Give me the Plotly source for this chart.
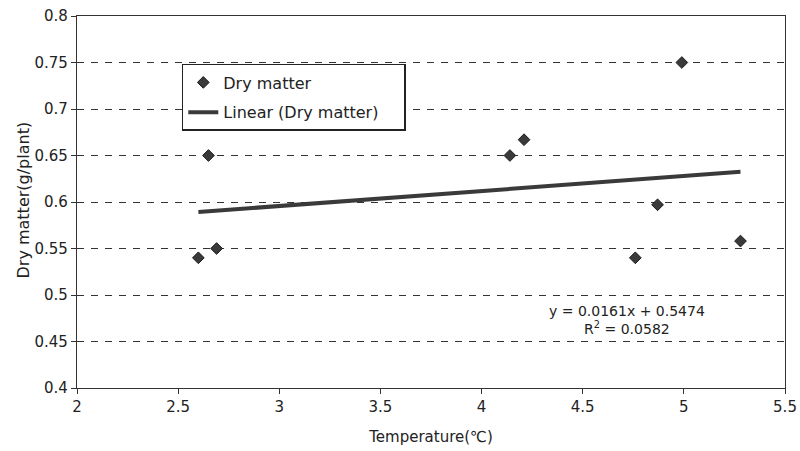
import plotly.graph_objects as go

# ---- data ----
temperature = [2.60, 2.65, 2.69, 4.14, 4.21, 4.76, 4.87, 4.99, 5.28]
dry_matter = [0.540, 0.650, 0.550, 0.650, 0.667, 0.540, 0.597, 0.750, 0.558]
trend_slope = 0.0161
trend_intercept = 0.5474
r_squared = 0.0582

x_ticks = [2, 2.5, 3, 3.5, 4, 4.5, 5, 5.5]
x_tick_labels = ["2", "2.5", "3", "3.5", "4", "4.5", "5", "5.5"]
y_ticks = [0.4, 0.45, 0.5, 0.55, 0.6, 0.65, 0.7, 0.75, 0.8]
y_tick_labels = ["0.4", "0.45", "0.5", "0.55", "0.6", "0.65", "0.7", "0.75", "0.8"]

# trend line spans the data range
trend_x = [min(temperature), max(temperature)]
trend_y = [trend_slope * v + trend_intercept for v in trend_x]

FONT = "DejaVu Sans"
INK = "#222222"
PAD = "\u00a0" * 4  # invisible padding so the legend box matches the reference width

fig = go.Figure()
fig.add_trace(go.Scatter(
    x=temperature, y=dry_matter, mode="markers", name="Dry matter",
    legendgroup="pts",
    marker=dict(symbol="diamond", size=9, color="#3a3a3a",
                line=dict(color="#1a1a1a", width=1)),
))
fig.add_trace(go.Scatter(
    x=trend_x, y=trend_y, mode="lines", name="Linear (Dry matter)" + PAD,
    legendgroup="fit",
    line=dict(color="#3a3a3a", width=4),
))

fig.add_annotation(
    x=4.72, y=0.473, xref="x", yref="y", showarrow=False,
    text=f"y = {trend_slope}x + {trend_intercept}<br>R<sup>2</sup> = {r_squared}",
    font=dict(family=FONT, size=14, color=INK), align="center",
)
# y-axis title placed as rotated text
fig.add_annotation(
    x=-0.092, y=0.505, xref="paper", yref="paper", showarrow=False,
    text="Dry matter(g/plant)", textangle=-90,
    font=dict(family=FONT, size=16, color=INK),
)

fig.update_layout(
    template="none",
    width=800, height=451,
    margin=dict(l=77, r=15, t=16, b=63),
    paper_bgcolor="white", plot_bgcolor="white",
    font=dict(family=FONT, size=15, color=INK),
    showlegend=True,
    legend=dict(
        x=0.148, y=0.871, xanchor="left", yanchor="top",
        bgcolor="white", bordercolor=INK, borderwidth=1.5,
        font=dict(family=FONT, size=16, color=INK),
        tracegroupgap=6,
    ),
    xaxis=dict(
        range=[2, 5.5], tickvals=x_ticks, ticktext=x_tick_labels,
        showgrid=False, zeroline=False,
        showline=True, linecolor="#333333", linewidth=1.2, mirror=True,
        ticks="outside", ticklen=5, tickcolor="#333333",
        tickfont=dict(family=FONT, size=15, color=INK),
        title=dict(text="Temperature(℃)", font=dict(family=FONT, size=15, color=INK), standoff=16),
    ),
    yaxis=dict(
        range=[0.4, 0.8], tickvals=y_ticks, ticktext=y_tick_labels,
        showgrid=True, gridcolor="#333333", gridwidth=1, griddash="7px,7px",
        zeroline=False,
        showline=True, linecolor="#333333", linewidth=1.2, mirror=True,
        ticks="outside", ticklen=5, tickcolor="#333333",
        tickfont=dict(family=FONT, size=15, color=INK),
    ),
)

fig.write_html("out.html", config={"displayModeBar": False},
               post_script="document.body.style.margin='0';")
